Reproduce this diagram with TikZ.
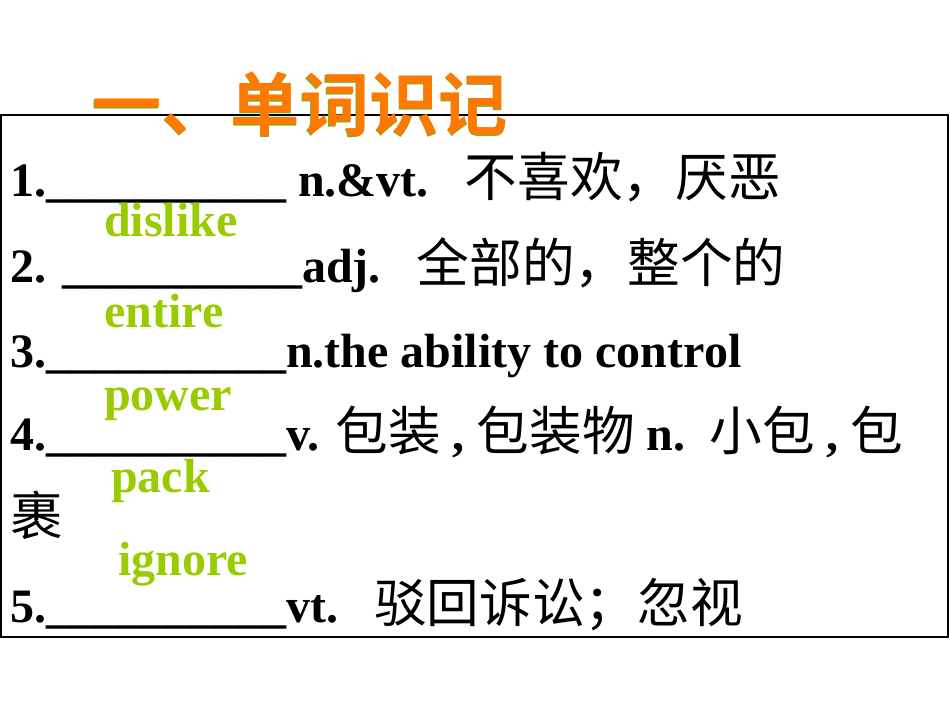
\documentclass[tikz,border=0pt]{standalone}
\usepackage{fontspec}
\setmainfont{Liberation Serif}
\newfontfamily\cjkr{Noto Sans CJK SC}
\newfontfamily\cjkb{Noto Sans CJK SC Bold}
\newcommand{\cjk}{\mdseries\cjkr\fontsize{39.5}{44}\selectfont}
\definecolor{ans}{RGB}{153,204,0}
\definecolor{ttl}{RGB}{255,120,0}
\definecolor{ttlo}{RGB}{110,180,30}
\begin{document}
\begin{tikzpicture}[x=0.75pt,y=-0.75pt,
  ln/.style={anchor=base west,inner sep=0pt,font=\fontsize{36}{42}\selectfont\bfseries},
  an/.style={anchor=base west,inner sep=0pt,font=\fontsize{36}{42}\selectfont\bfseries,text=ans}]
\useasboundingbox (0,0) rectangle (950,713);
\draw[line width=1.5pt] (1,115) rectangle (948,637);
\node[anchor=base west,inner sep=0pt,font=\fontsize{52}{60}\selectfont\cjkb,text=ttlo] (t0) at (91.5,131.5) {一、单词识记};
\node[anchor=base west,inner sep=0pt,font=\fontsize{52}{60}\selectfont\cjkb,text=ttl] (t) at (92,131) {一、单词识记};
\node[ln] (l1) at (10,197) {1.\_\_\_\_\_\_\_\_\_\_ n.\&vt.\ \ \ {\cjk 不喜欢，厌恶}};
\node[an] (a1) at (104,237) {dislike};
\node[ln] (l2) at (10,282) {2. \_\_\_\_\_\_\_\_\_\_adj.\ \ \ {\cjk 全部的，整个的}};
\node[an] (a2) at (104,327) {entire};
\node[ln] (l3) at (10,367) {3.\_\_\_\_\_\_\_\_\_\_n.the ability to control};
\node[an] (a3) at (104,410) {power};
\node[ln] (l4) at (10,450) {4.\_\_\_\_\_\_\_\_\_\_v. {\cjk 包装} , {\cjk 包装物} n.\ \ {\cjk 小包} , {\cjk 包}};
\node[an] (a4) at (111,492) {pack};
\node[ln] (l4b) at (10,535) {\cjk 裹};
\node[an] (a5) at (118,575) {ignore};
\node[ln] (l5) at (10,622) {5.\_\_\_\_\_\_\_\_\_\_vt.\ \ \ {\cjk 驳回诉讼；忽视}};
\end{tikzpicture}
\end{document}
